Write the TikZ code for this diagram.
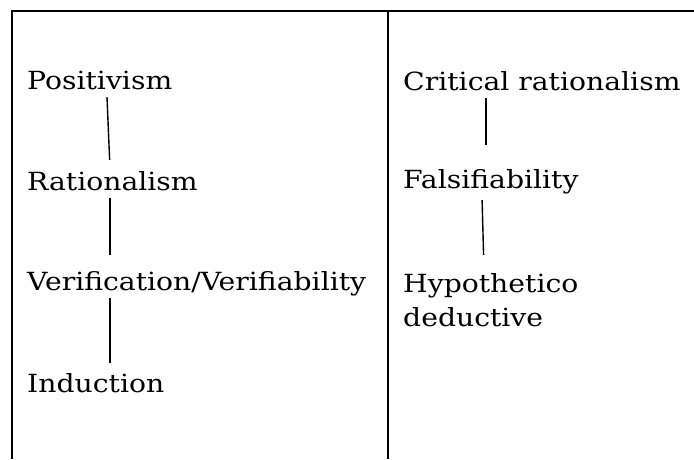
\documentclass[tikz,border=0pt]{standalone}
\usepackage{fontspec}
\setmainfont[FakeStretch=1.13]{DejaVu Serif}
\usepackage{tikz}
\usetikzlibrary{positioning}
\tikzset{
  term/.style={anchor=base west, inner xsep=0pt, inner ysep=2pt,
               text height=19pt, text depth=6pt,
               font=\fontsize{25}{34}\selectfont},
  link/.style={line width=1.4pt},
  frame/.style={line width=2.2pt},
}
\begin{document}
\begin{tikzpicture}[x=1pt, y=-1pt]
  \useasboundingbox (0,0) rectangle (694,459);

  % table frame (open at right and bottom)
  \coordinate (tl) at (12,11);
  \coordinate (tm) at (388,11);
  \coordinate (tr) at (694,11);
  \draw[frame] (12,459) -- (tl) -- (tr);
  \draw[frame] (tm) -- (388,459);

  % left column
  \node[term] (posit) at (27,89) {Positivism};
  \node[term] (ratio) at (27,190) {Rationalism};
  \node[term] (verif) at (27,290) {Verification/Verifiability};
  \node[term] (induc) at (27,392) {Induction};

  % right column
  \node[term] (crit) at (403,90) {Critical rationalism};
  \node[term] (fals) at (403,188) {Falsifiability};
  \node[term] (hypo) at (403,292)
    {\begin{tabular}[t]{@{}l@{}}Hypothetico\\deductive\end{tabular}};

  % connectors
  \draw[link, shorten >=9pt] ([xshift=80pt]posit.south west) -- ([xshift=83pt]ratio.north west);
  \draw[link, shorten >=14pt] ([xshift=83pt]ratio.south west) -- ([xshift=83pt]verif.north west);
  \draw[link, shorten >=8pt] ([xshift=83pt]verif.south west) -- ([xshift=83pt]induc.north west);
  \draw[link, shorten >=22pt] ([xshift=83pt]crit.south west) -- ([xshift=83pt]fals.north west);
  \draw[link, shorten <=4pt, shorten >=16pt] ([xshift=79pt]fals.south west) -- ([xshift=81pt]hypo.north west);
\end{tikzpicture}
\end{document}
